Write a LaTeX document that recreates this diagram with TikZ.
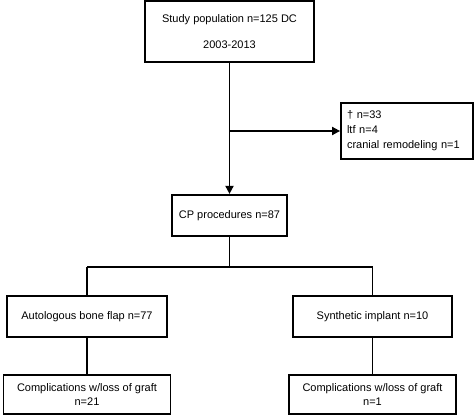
\documentclass[tikz,border=0pt]{standalone}
\usepackage{fontspec}
\setmainfont{Liberation Sans}
\usetikzlibrary{positioning,arrows.meta}

\begin{document}
\begin{tikzpicture}[x=1pt, y=-1pt, line width=1.8pt, >={Triangle[length=8pt,width=8pt]},
  every node/.style={font=\fontsize{11}{14.5}\selectfont},
  box/.style={draw, line width=1.8pt, align=center, inner sep=0pt, minimum height=41pt}]
\useasboundingbox (0,0) rectangle (475,417);
\node[box, minimum width=169pt, minimum height=61pt] (pop) at (229.5,31.5) {Study population n=125 DC\\[11.5pt]2003-2013};
\node[box, align=left, text width=120pt, inner sep=6pt, minimum height=56pt] (excl) at (407,131) {† n=33\\[0.5pt] ltf n=4\\[0.5pt] cranial remodeling n=1};
\node[box, minimum width=115pt, below=131pt of pop] (cp) {CP procedures n=87};
\node[box, minimum width=160pt] (auto) at (87,316.5) {Autologous bone flap n=77};
\node[box, minimum width=159pt] (syn) at (372.5,316.5) {Synthetic implant n=10};
\node[box, minimum width=167pt, minimum height=39pt, below=36pt of auto] (lossA) {Complications w/loss of graft\\ n=21};
\node[box, minimum width=167pt, minimum height=39pt, below=36pt of syn] (lossS) {Complications w/loss of graft\\ n=1};
\coordinate[below=30pt of cp] (split);
\coordinate (splitA) at (auto |- split);
\coordinate (splitS) at (syn |- split);
\coordinate (branch) at (pop |- excl.west);
\draw[->] (pop) -- (cp);
\draw[->] (branch) -- (excl);
\draw (cp) -- (split);
\draw (splitA) -- (splitS);
\draw (splitA) -- (auto);
\draw (splitS) -- (syn);
\draw (auto) -- (lossA);
\draw (syn) -- (lossS);
\end{tikzpicture}
\end{document}
